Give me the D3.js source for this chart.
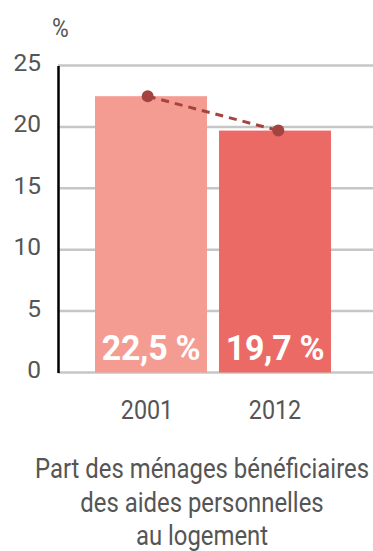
<!DOCTYPE html>
<html>
<head>
<meta charset="utf-8">
<script src="https://cdn.jsdelivr.net/npm/d3@7"></script>
<style>
  html, body { margin: 0; padding: 0; background: #fff; }
  svg { display: block; }
  text { font-family: Roboto, "Liberation Sans", sans-serif; }
</style>
</head>
<body>
<svg id="chart" width="373" height="551"></svg>
<script>
// Share of households receiving personal housing aid
const years = ["2001", "2012"];
const values = [22.5, 19.7];
const valueLabels = ["22,5 %", "19,7 %"];
const yTicks = [0, 5, 10, 15, 20, 25];
const titleLines = ["Part des ménages bénéficiaires", "des aides personnelles", "au logement"];
const barColors = ["#f49c92", "#ec6a65"];

const W = 373, H = 551;
const svg = d3.select("#chart");
const narrow = 0.88; // horizontal squeeze for a condensed look

const y = d3.scaleLinear().domain([0, 25]).range([372.5, 65.5]);
const x = d3.scaleBand().domain(years).range([95, 331]).paddingInner(0.097);
const xp = d3.scalePoint().domain(years).range([95, 331]).padding(0.4035);

const axisX = 58;

// horizontal gridlines
svg.append("g").selectAll("line").data(yTicks).join("line")
  .attr("x1", axisX).attr("x2", W)
  .attr("y1", d => y(d)).attr("y2", d => y(d))
  .attr("stroke", "#c6c6c6").attr("stroke-width", 2.5);

// y axis with tick labels
const yAxis = d3.axisLeft(y).tickValues(yTicks).tickSize(0).tickPadding(17);
const gy = svg.append("g").attr("transform", `translate(${axisX},0)`).call(yAxis);
gy.select(".domain").attr("stroke", "#000").attr("stroke-width", 2.5);
gy.selectAll("text")
  .attr("fill", "#555").attr("font-size", 24.5).attr("font-weight", 400)
  .attr("dy", "0.2em");

// bars
svg.append("g").selectAll("rect").data(years).join("rect")
  .attr("x", d => x(d)).attr("width", x.bandwidth())
  .attr("y", (d, i) => y(values[i]))
  .attr("height", (d, i) => y(0) - y(values[i]))
  .attr("fill", (d, i) => barColors[i]);

// value labels inside bars
svg.append("g").selectAll("text").data(years).join("text")
  .attr("transform", d => `translate(${x(d) + x.bandwidth() / 2},360) scale(0.97,1)`)
  .attr("text-anchor", "middle")
  .attr("fill", "#fff").attr("font-weight", 700).attr("font-size", 35)
  .attr("letter-spacing", -0.3)
  .text((d, i) => valueLabels[i]);

// trend line between the two years
const line = d3.line().x((d, i) => xp(years[i])).y(d => y(d));
svg.append("path").datum(values)
  .attr("d", line)
  .attr("fill", "none").attr("stroke", "#a5443f")
  .attr("stroke-width", 3).attr("stroke-dasharray", "8,6");
svg.append("g").selectAll("circle").data(values).join("circle")
  .attr("cx", (d, i) => xp(years[i])).attr("cy", d => y(d))
  .attr("r", 6).attr("fill", "#a5443f");

// year labels
svg.append("g").selectAll("text").data(years).join("text")
  .attr("transform", d => `translate(${x(d) + x.bandwidth() / 2 - (d === "2001" ? 4 : 0)},419) scale(${narrow},1)`)
  .attr("text-anchor", "middle")
  .attr("fill", "#555").attr("font-size", 26.5).attr("font-weight", 400)
  .text(d => d);

// unit label
svg.append("text").attr("transform", `translate(52,37) scale(${narrow},1)`)
  .attr("fill", "#555").attr("font-size", 26).attr("font-weight", 400)
  .text("%");

// caption
svg.append("g").selectAll("text").data(titleLines).join("text")
  .attr("transform", (d, i) => `translate(202,${478 + i * 33.5}) scale(0.885,1)`)
  .attr("text-anchor", "middle")
  .attr("fill", "#555").attr("font-size", 27).attr("font-weight", 400)
  .text(d => d);
</script>
</body>
</html>
